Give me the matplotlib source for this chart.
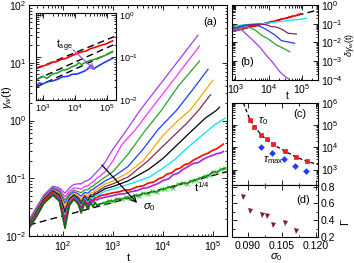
import matplotlib
matplotlib.use('Agg')
import matplotlib.pyplot as plt
from matplotlib.ticker import LogLocator, MultipleLocator, NullFormatter

plt.rcParams['font.family'] = ['Liberation Sans', 'DejaVu Sans']
plt.rcParams['mathtext.fontset'] = 'custom'
plt.rcParams['mathtext.rm'] = 'Liberation Sans'
plt.rcParams['mathtext.it'] = 'Liberation Sans:italic'
plt.rcParams['mathtext.sf'] = 'Liberation Sans'
plt.rcParams['axes.linewidth'] = 0.8

# ---- panel (a): gamma_w(t), 11 curves, top to bottom
colors_a = ['#a23cf0', '#ff33ff', '#2ca02c', '#1f3cff', '#ffa500', '#7f2a5a',
            'black', '#00e5ff', '#ff0000', '#9a2be0', '#0a6a0a']

t_early = [21, 30, 42, 63, 85, 110, 135, 165, 200, 232, 272, 316, 360, 400, 440, 480, 560]
g_early = [
    [0.019, 0.032, 0.052, 0.073, 0.068, 0.055, 0.068, 0.078, 0.080, 0.080, 0.088, 0.092, 0.10, 0.11, 0.12, 0.13, 0.15],
    [0.018, 0.031, 0.050, 0.070, 0.064, 0.048, 0.060, 0.068, 0.067, 0.065, 0.072, 0.074, 0.082, 0.087, 0.094, 0.10, 0.11],
    [0.0175, 0.030, 0.049, 0.068, 0.061, 0.042, 0.055, 0.062, 0.059, 0.056, 0.063, 0.063, 0.070, 0.073, 0.079, 0.083, 0.092],
    [0.017, 0.029, 0.047, 0.066, 0.058, 0.037, 0.051, 0.058, 0.054, 0.049, 0.057, 0.055, 0.062, 0.064, 0.069, 0.072, 0.079],
    [0.0165, 0.028, 0.046, 0.064, 0.055, 0.032, 0.048, 0.055, 0.050, 0.044, 0.053, 0.049, 0.056, 0.057, 0.062, 0.064, 0.070],
    [0.016, 0.027, 0.044, 0.062, 0.052, 0.028, 0.045, 0.052, 0.047, 0.040, 0.050, 0.045, 0.052, 0.052, 0.057, 0.058, 0.064],
    [0.0155, 0.026, 0.043, 0.060, 0.050, 0.025, 0.042, 0.050, 0.044, 0.036, 0.047, 0.041, 0.049, 0.048, 0.053, 0.054, 0.059],
    [0.015, 0.025, 0.041, 0.058, 0.047, 0.022, 0.040, 0.048, 0.042, 0.033, 0.045, 0.038, 0.046, 0.045, 0.050, 0.050, 0.054],
    [0.0145, 0.024, 0.040, 0.056, 0.045, 0.019, 0.037, 0.046, 0.040, 0.030, 0.042, 0.035, 0.043, 0.041, 0.046, 0.046, 0.050],
    [0.014, 0.023, 0.038, 0.053, 0.042, 0.016, 0.035, 0.044, 0.038, 0.028, 0.040, 0.032, 0.041, 0.038, 0.043, 0.042, 0.045],
    [0.0135, 0.022, 0.037, 0.051, 0.040, 0.0136, 0.034, 0.043, 0.036, 0.025, 0.038, 0.029, 0.038, 0.032, 0.038, 0.034, 0.036],
]
t_late = [
    [700, 1000, 1870, 3470, 10000, 50000],
    [700, 1000, 1500, 2750, 5500, 15000, 53700],
    [700, 1000, 2000, 4000, 9300, 20000, 53700],
    [700, 1000, 2000, 4000, 8000, 18600, 40000, 79400],
    [700, 1000, 2000, 4000, 10000, 20000, 34700, 100000],
    [700, 1000, 2000, 5000, 10000, 30000, 51300, 89000],
    [700, 1000, 2000, 5000, 10000, 30000, 70000, 117000, 135000],
    [700, 1000, 2000, 3500, 5500, 10000, 17000, 30000, 55000, 100000, 140000, 174000],
    [700, 1000, 1300, 1700, 2200, 3000, 4000, 5000, 6500, 8000, 10000, 12000, 15000, 18000,
     22000, 27000, 33000, 40000, 50000, 62000, 78000, 95000, 115000, 135000, 160000],
    [700, 1000, 1300, 1700, 2200, 3000, 4000, 5000, 6500, 8000, 10000, 13000, 16000, 20000,
     25000, 30000, 40000, 50000, 65000, 80000, 100000, 120000, 140000, 160000],
    [700, 850, 1000, 1200, 1500, 1800, 2200, 2700, 3300, 4000, 5000, 6000, 7500, 9000, 11000,
     13000, 16000, 20000, 25000, 30000, 37000, 45000, 55000, 68000, 82000, 100000, 120000,
     145000, 174000],
]
g_late = [
    [0.19, 0.32, 0.68, 1.5, 4.9, 30],
    [0.13, 0.20, 0.38, 0.68, 1.5, 4.6, 19.5],
    [0.105, 0.13, 0.26, 0.60, 1.5, 3.9, 10.7],
    [0.09, 0.105, 0.16, 0.32, 0.70, 1.5, 3.5, 7.7],
    [0.08, 0.09, 0.125, 0.20, 0.55, 1.0, 1.5, 5.0],
    [0.072, 0.08, 0.105, 0.20, 0.36, 0.90, 1.5, 2.8],
    [0.066, 0.072, 0.09, 0.14, 0.22, 0.55, 1.1, 1.5, 1.7],
    [0.06, 0.065, 0.078, 0.092, 0.106, 0.15, 0.21, 0.33, 0.52, 0.80, 0.98, 1.1],
    [0.052, 0.056, 0.058, 0.062, 0.063, 0.071, 0.074, 0.082, 0.086, 0.097, 0.104, 0.118, 0.124,
     0.142, 0.15, 0.172, 0.18, 0.205, 0.225, 0.25, 0.27, 0.30, 0.32, 0.35, 0.39],
    [0.047, 0.050, 0.053, 0.054, 0.058, 0.061, 0.067, 0.069, 0.076, 0.081, 0.091, 0.098, 0.115,
     0.122, 0.142, 0.155, 0.18, 0.186, 0.215, 0.235, 0.25, 0.268, 0.272, 0.29],
    [0.038, 0.041, 0.040, 0.044, 0.043, 0.047, 0.046, 0.051, 0.050, 0.055, 0.054, 0.059, 0.058,
     0.064, 0.066, 0.071, 0.069, 0.078, 0.083, 0.081, 0.090, 0.094, 0.100, 0.108, 0.112, 0.130,
     0.128, 0.142, 0.148],
]
fit_a_t = [21, 190000]
fit_a_g = [0.0155, 0.13]

# ---- inset of (a)
in_red_t = [630, 800, 1000, 1400, 2000, 2700, 3700, 5000, 7000, 10000, 16000, 22000, 30000,
            45000, 60000, 90000, 150000]
in_red_g = [0.056, 0.061, 0.063, 0.068, 0.077, 0.080, 0.090, 0.094, 0.105, 0.118, 0.135, 0.14,
            0.16, 0.175, 0.19, 0.205, 0.245]
in_grn_t = [630, 800, 1000, 1300, 2000, 2800, 4000, 5500, 8000, 11000, 13000, 16000, 22000,
            30000, 45000, 60000, 90000, 150000]
in_grn_g = [0.030, 0.034, 0.036, 0.032, 0.041, 0.043, 0.050, 0.052, 0.060, 0.066, 0.075, 0.068,
            0.078, 0.085, 0.092, 0.10, 0.112, 0.138]
in_blu_t = [630, 750, 1000, 1400, 2000, 3000, 4000, 6000, 8000, 12000, 20000, 26000, 30000,
            40000, 55000, 80000, 150000]
in_blu_g = [0.020, 0.025, 0.024, 0.027, 0.028, 0.031, 0.035, 0.036, 0.040, 0.041, 0.048, 0.055,
            0.065, 0.055, 0.064, 0.075, 0.095]
in_fit_t = [600, 190000]
in_fit_red = [0.054, 0.32]
in_fit_grn = [0.030, 0.21]
in_fit_blu = [0.020, 0.148]

# ---- panel (b): delta gamma_w(t)
b_colors = ['#ff0000', '#00e5ff', '#7f2a5a', '#1f3cff', '#2ca02c', '#a23cf0']
b_t = [
    [800, 1100, 1500, 2000, 3000, 4000, 6000, 8500, 12000, 17000, 25000, 35000, 50000, 65000, 87000],
    [800, 1500, 3000, 5000, 8500, 14000, 20000, 30000, 50000, 80000, 135000],
    [800, 2000, 5400, 9000, 12000, 16000, 21400, 28000, 38000, 50000, 67600],
    [800, 1800, 4300, 7000, 10700, 16000, 24000, 35000, 60000],
    [800, 1500, 2700, 4000, 6000, 10000, 17000, 27000, 42700],
    [800, 1500, 3400, 5500, 8500, 13000, 21400, 30000, 40700],
]
b_y = [
    [0.038, 0.046, 0.050, 0.060, 0.070, 0.075, 0.095, 0.10, 0.13, 0.14, 0.18, 0.20, 0.25, 0.27, 0.33],
    [0.069, 0.085, 0.095, 0.10, 0.105, 0.12, 0.13, 0.14, 0.16, 0.17, 0.195],
    [0.057, 0.085, 0.098, 0.085, 0.070, 0.068, 0.057, 0.045, 0.031, 0.030, 0.028],
    [0.050, 0.075, 0.085, 0.060, 0.038, 0.024, 0.0126, 0.011, 0.0091],
    [0.047, 0.060, 0.064, 0.045, 0.025, 0.015, 0.0074, 0.005, 0.0032],
    [0.038, 0.050, 0.013, 0.0055, 0.0021, 0.0009, 0.00028, 0.00016, 0.00011],
]
b_fit_t = [800, 300000]
b_fit_y = [0.038, 0.54]

# ---- panel (c): tau_0 and tau_max vs sigma_0
s_tau0 = [0.0910, 0.0929, 0.0958, 0.0983, 0.1011, 0.1063, 0.1113, 0.1163]
tau0 = [1.7e5, 7.9e4, 3.5e4, 2.5e4, 1.4e4, 6.6e3, 3.6e3, 2.3e3]
s_taumax = [0.0958, 0.1006, 0.1058, 0.1108, 0.1158]
taumax = [1.02e4, 5.5e3, 3.1e3, 1.5e3, 9.0e2]
fit_c_s = [0.0880, 0.0910, 0.0960, 0.1011, 0.1064, 0.1113, 0.1161, 0.1210]
fit_c_tau = [1.0e6, 1.7e5, 3.5e4, 1.38e4, 6.6e3, 3.7e3, 2.3e3, 1.7e3]

# ---- panel (d): Gamma vs sigma_0
s_gam = [0.0880, 0.0911, 0.0961, 0.0983, 0.1013, 0.1064, 0.1114]
gam = [0.673, 0.513, 0.465, 0.449, 0.341, 0.368, 0.272]

W, H = 354.0, 263.0


def box(x0, y0, x1, y1):
    return [x0 / W, 1 - y1 / H, (x1 - x0) / W, (y1 - y0) / H]


def P(x, y):
    return (x / W, 1 - y / H)


fig = plt.figure(figsize=(3.54, 2.63), dpi=100)
ax = fig.add_axes(box(29, 5, 227, 236))
axi = fig.add_axes(box(36, 13, 116, 100))
axb = fig.add_axes(box(232, 5, 318, 80))
axc = fig.add_axes(box(232, 103, 318, 185))
axd = fig.add_axes(box(232, 185, 318, 237))

fs = 7.5


def logticks(a, which='both'):
    for axis in ([a.xaxis, a.yaxis] if which == 'both' else [a.yaxis if which == 'y' else a.xaxis]):
        axis.set_major_locator(LogLocator(base=10, numticks=20))
        axis.set_minor_locator(LogLocator(base=10, subs=range(2, 10), numticks=20))
        axis.set_minor_formatter(NullFormatter())


def style(a, size=fs):
    a.tick_params(which='both', direction='in', top=True, right=True, labelsize=size, width=0.6, pad=2)
    a.tick_params(which='major', length=3.5)
    a.tick_params(which='minor', length=1.8)


# main panel
ax.plot(fit_a_t, fit_a_g, 'k--', lw=1.0, dashes=(5, 3))
for k in range(11):
    lw = 1.2 if k >= 8 else 0.9
    ax.plot(t_early + t_late[k], g_early[k] + g_late[k], color=colors_a[k], lw=lw)
ax.plot(t_late[10], g_late[10], 'x', color='#33bb33', ms=2.2, mew=0.6)
ax.set_xscale('log')
ax.set_yscale('log')
ax.set_xlim(21, 1.9e5)
ax.set_ylim(1e-2, 1e2)
logticks(ax)
style(ax)
fig.text(*P(7, 97), r'$\gamma_w$(t)', rotation=90, ha='center', va='center', fontsize=8)
fig.text(*P(128, 258), 't', ha='center', va='center', fontsize=8)
fig.text(*P(210, 22), '(a)', ha='center', va='center', fontsize=8)
fig.text(*P(202, 187), r't$^{1/4}$', ha='center', va='center', fontsize=8)
fig.text(*P(149, 207), r'$\sigma_0$', ha='center', va='center', fontsize=8)
ax.annotate('', xy=P(139, 205), xytext=P(100, 163), xycoords='figure fraction',
            textcoords='figure fraction',
            arrowprops=dict(arrowstyle='->', color='black', lw=0.9))

# inset
axi.plot(in_fit_t, in_fit_red, 'k--', lw=1.0, dashes=(5, 3))
axi.plot(in_fit_t, in_fit_grn, 'k--', lw=1.0, dashes=(5, 3))
axi.plot(in_fit_t, in_fit_blu, 'k--', lw=1.0, dashes=(5, 3))
axi.plot(in_red_t, in_red_g, color='#ff0000', lw=1.2)
axi.plot(in_grn_t, in_grn_g, color='#2ca02c', lw=1.2)
axi.plot(in_blu_t, in_blu_g, color='#1f3cff', lw=1.2)
axi.set_xscale('log')
axi.set_yscale('log')
axi.set_xlim(600, 1.9e5)
axi.set_ylim(1e-2, 1.1)
logticks(axi)
style(axi, 6.5)
axi.tick_params(labelleft=False, labelright=True)
axi.annotate('', xy=P(97, 72), xytext=P(71, 48), xycoords='figure fraction',
             textcoords='figure fraction',
             arrowprops=dict(arrowstyle='->', color='#9a5ae0', lw=0.9))
fig.text(*P(64, 46), r't$_{\rm age}$', ha='center', va='center', fontsize=7.5)

# panel (b)
axb.plot(b_fit_t, b_fit_y, 'k--', lw=1.0, dashes=(5, 3))
for k in range(6):
    axb.plot(b_t[k], b_y[k], color=b_colors[k], lw=1.3 if k == 0 else 0.9)
axb.set_xscale('log')
axb.set_yscale('log')
axb.set_xlim(800, 3e5)
axb.set_ylim(1e-4, 1)
logticks(axb)
axb.yaxis.set_major_locator(LogLocator(base=10, numticks=10))
style(axb)
axb.tick_params(labelleft=False, labelright=True)
axb.tick_params(axis='x', pad=1.5)
fig.text(*P(247, 62), '(b)', ha='center', va='center', fontsize=8)
fig.text(*P(287, 96), 't', ha='center', va='center', fontsize=7.5)
fig.text(*P(349, 45), r'$\delta\gamma_w$(t)', rotation=90, ha='center', va='center', fontsize=6.5)

# panel (c)
axc.plot(fit_c_s, fit_c_tau, 'k--', lw=0.9, dashes=(3, 2))
axc.plot(s_tau0, tau0, 's', color='#ff1a1a', ms=3.5, mec='#cc0000', mew=0.4)
axc.plot(s_taumax, taumax, 'D', color='#1f3cff', ms=3.4, mew=0)
axc.set_yscale('log')
axc.set_xlim(0.083, 0.121)
axc.set_ylim(2e2, 1e6)
logticks(axc, 'y')
axc.xaxis.set_major_locator(MultipleLocator(0.015))
axc.xaxis.set_minor_locator(MultipleLocator(0.0075))
style(axc)
axc.tick_params(labelleft=False, labelright=True, labelbottom=False)
fig.text(*P(300, 114), '(c)', ha='center', va='center', fontsize=8)
fig.text(*P(263, 121), r'$\tau_0$', ha='center', va='center', fontsize=8)
fig.text(*P(273, 160), r'$\tau_{\rm max}$', ha='center', va='center', fontsize=8)

# panel (d)
axd.plot(s_gam, gam, 'v', color='#7a1f4a', ms=3.6, mew=0)
axd.set_xlim(0.083, 0.121)
axd.set_ylim(0.2, 0.82)
axd.xaxis.set_major_locator(MultipleLocator(0.015))
axd.xaxis.set_minor_locator(MultipleLocator(0.0075))
axd.yaxis.set_major_locator(MultipleLocator(0.2))
axd.yaxis.set_minor_locator(MultipleLocator(0.1))
axd.xaxis.set_major_formatter(plt.FuncFormatter(lambda v, p: '%.3f' % v))
axd.yaxis.set_major_formatter(plt.FuncFormatter(lambda v, p: '%.1f' % v))
style(axd)
axd.tick_params(labelleft=False, labelright=True)
axd.tick_params(axis='x', pad=3)
fig.text(*P(303, 200), '(d)', ha='center', va='center', fontsize=8)
fig.text(*P(276, 257), r'$\sigma_0$', ha='center', va='center', fontsize=8)
fig.text(*P(345, 222), r'$\Gamma$', rotation=90, ha='center', va='center', fontsize=8)

fig.savefig('out.png', dpi=100)
